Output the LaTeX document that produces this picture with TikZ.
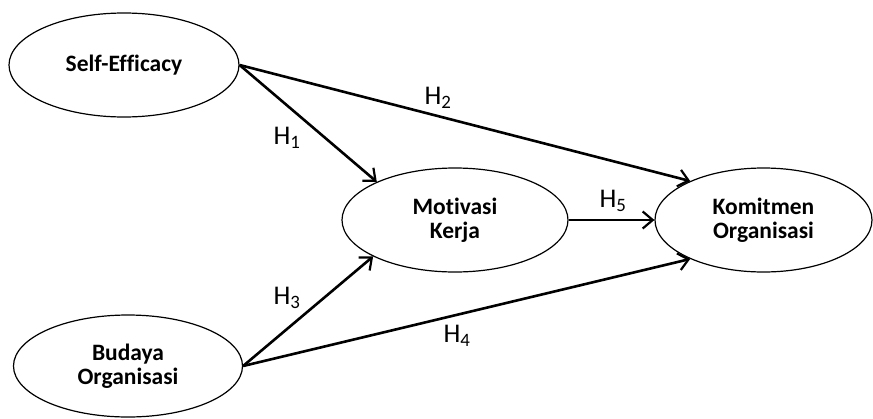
\documentclass[tikz,border=0pt]{standalone}
\usepackage{fontspec}
\setmainfont[Ligatures=NoCommon]{Carlito}
\usetikzlibrary{arrows.meta,shapes.geometric}
\begin{document}
\begin{tikzpicture}[x=1pt,y=-1pt,
  latent/.style={draw=black,line width=1.2pt,ellipse,inner sep=0pt,align=center,
    font=\fontsize{23.5}{24}\selectfont\bfseries},
  arr/.style={line width=2.6pt,-{Straight Barb[length=10pt,width=17pt,line width=2.2pt]}},
  hlab/.style={font=\fontsize{27}{28}\selectfont,inner sep=0pt}]
\useasboundingbox (0,0) rectangle (873,418);
\node[latent,minimum width=230pt,minimum height=104pt] (se) at (124,65) {Self-Efficacy};
\node[latent,minimum width=229pt,minimum height=102pt] (bo) at (128,366) {Budaya\\Organisasi};
\node[latent,minimum width=226pt,minimum height=104pt] (mk) at (455,220) {Motivasi\\Kerja};
\node[latent,minimum width=217pt,minimum height=104pt] (km) at (763.5,220) {Komitmen\\Organisasi};
\draw[arr] (se.east) -- (mk.154);
\draw[arr] (se.east) -- (km.152);
\draw[arr] (bo.east) -- (mk.204);
\draw[arr] (bo.east) -- (km.208);
\draw[arr] (mk.east) -- (km.west);
\node[hlab] (h1) at (287,138) {H\textsubscript{1}};
\node[hlab] (h2) at (438,98) {H\textsubscript{2}};
\node[hlab] (h3) at (287,298) {H\textsubscript{3}};
\node[hlab] (h4) at (457,336) {H\textsubscript{4}};
\node[hlab] (h5) at (613,201) {H\textsubscript{5}};
\end{tikzpicture}
\end{document}
